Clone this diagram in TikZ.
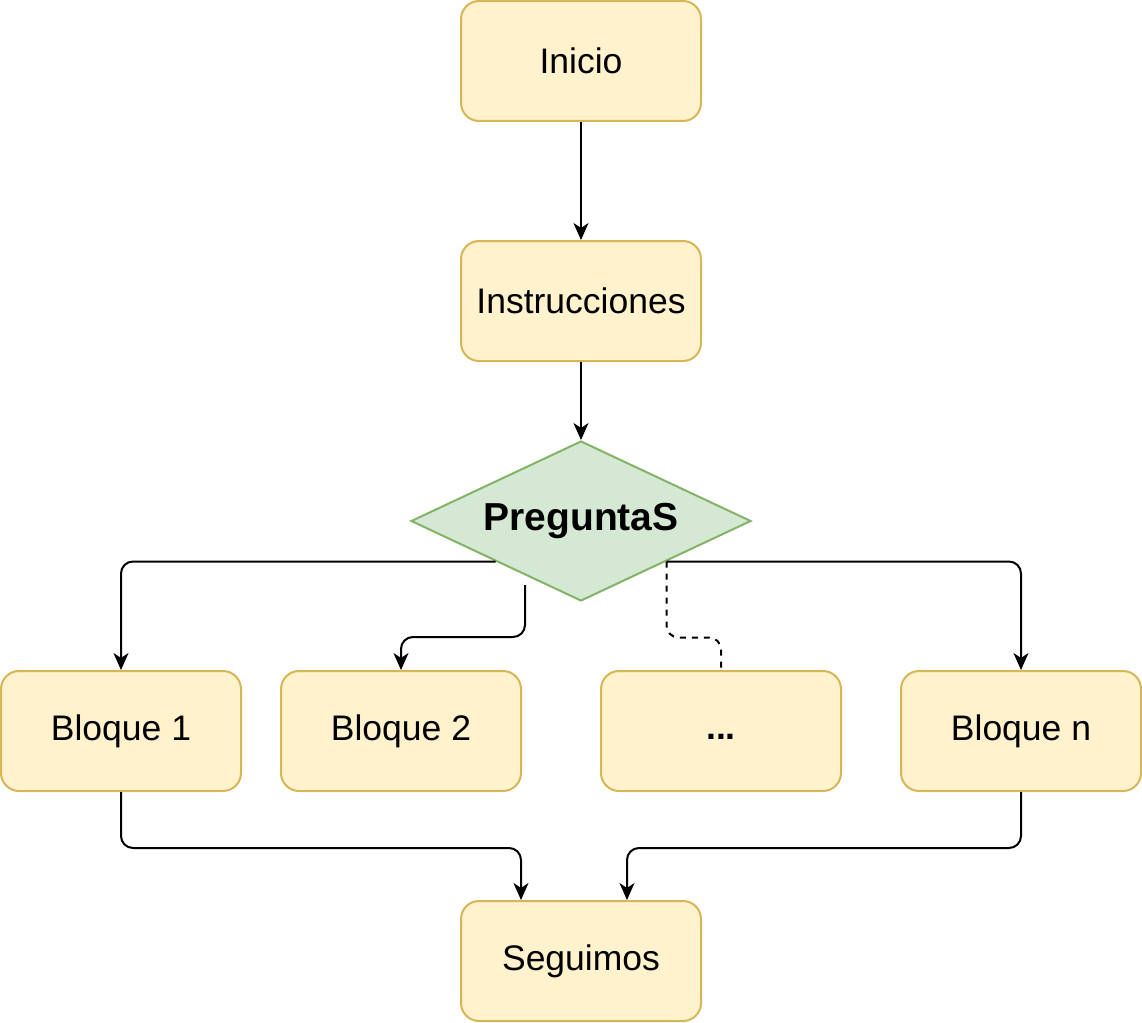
\documentclass[tikz,border=0pt]{standalone}
\usepackage{fontspec}
\setmainfont{Liberation Sans}
\usetikzlibrary{shapes.geometric,arrows.meta}
\definecolor{boxfill}{HTML}{FFF2CC}
\definecolor{boxline}{HTML}{D6B656}
\definecolor{decfill}{HTML}{D5E8D4}
\definecolor{decline}{HTML}{82B366}
\begin{document}
\begin{tikzpicture}[x=1pt,y=-1pt,
  box/.style={draw=boxline, fill=boxfill, line width=2pt, rounded corners=18pt,
    minimum width=240pt, minimum height=120pt, inner sep=0pt,
    font=\fontsize{35.5}{42}\selectfont},
  dec/.style={diamond, draw=decline, fill=decfill, line width=2pt,
    minimum width=340pt, minimum height=160pt, inner sep=0pt, aspect=2.125,
    font=\fontsize{39}{46}\selectfont\bfseries},
  edge/.style={line width=2pt, rounded corners=12pt, -{Stealth[length=17pt,width=15pt,inset=5pt]}},
  dedge/.style={line width=2pt, rounded corners=12pt, dash pattern=on 6pt off 6pt}]
\useasboundingbox (0,0) rectangle (1142,1022);
\node[box] (ini) at (581,61) {Inicio};
\node[box] (ins) at (581,301) {Instrucciones};
\node[dec] (dec) at (581,521) {PreguntaS};
\node[box] (b1) at (121,731) {Bloque 1};
\node[box] (b2) at (401,731) {Bloque 2};
\node[box] (dots) at (721,731) {\vphantom{Iq}\textbf{...}};
\node[box] (bn) at (1021,731) {Bloque n};
\node[box] (seg) at (581,961) {Seguimos};
\coordinate (s2) at (525,585);
\draw[edge] (ini) -- (ins);
\draw[edge] (ins) -- (dec);
\draw[edge] (dec.south west) -| (b1);
\draw[edge] (s2) -- ++(0,52) -| (b2);
\draw[dedge] (dec.south east) -- ++(0,76) -| (dots.north);
\draw[edge] (dec.south east) -| (bn);
\draw[edge] (b1.south) -- ++(0,56) -| ([xshift=-60pt]seg.north);
\draw[edge] (bn.south) -- ++(0,56) -| ([xshift=46pt]seg.north);
\end{tikzpicture}
\end{document}
